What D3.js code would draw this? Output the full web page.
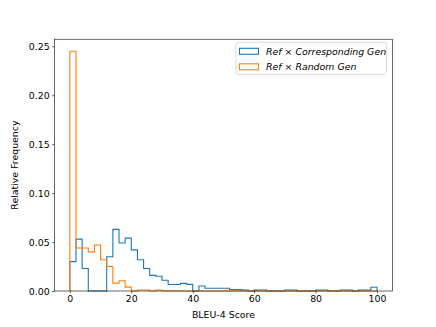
<!DOCTYPE html>
<html><head><meta charset="utf-8">
<script src="https://cdn.jsdelivr.net/npm/d3@7"></script>
<style>body{margin:0;background:#fff}svg{display:block}text{font-family:"DejaVu Sans",sans-serif}</style>
</head><body>
<script>
const binEdges = d3.range(0, 102, 2);
const seriesNames = ["Ref \u00d7 Corresponding Gen", "Ref \u00d7 Random Gen"];
const correspondingValues = [0.030,0.053,0.023,0,0,0,0.035,0.063,0.049,0.054,0.042,0.032,0.023,0.016,0.015,0.011,0.0067,0.0067,0.0078,0.0068,0,0.0051,0.0028,0.0028,0.0028,0.0028,0.0015,0.0015,0.001,0,0.001,0.001,0,0,0,0.001,0.001,0,0,0,0.001,0.001,0,0,0.001,0.001,0,0.001,0.001,0.0038];
const randomValues = [0.245,0.044,0.044,0.040,0.047,0.032,0.025,0.008,0.0105,0.004,0,0.001,0.001,0,0.001,0,0,0,0,0,0,0,0,0,0,0,0,0,0,0,0,0,0,0,0,0,0,0,0,0,0,0,0,0,0,0,0,0,0,0];
const xTicks = [0,20,40,60,80,100];
const yTicks = [0,0.05,0.10,0.15,0.20,0.25];
const colors = ["#1f77b4","#ff7f0e"];

const W=436,H=327, L=54.5, R=392.4, T=39.2, B=291;
const svg=d3.select("body").append("svg").attr("width",W).attr("height",H);
const ymax = d3.max(randomValues.concat(correspondingValues))*1.05;
const x=d3.scaleLinear().domain([-5,105]).range([L,R]);
const y=d3.scaleLinear().domain([0,ymax]).range([B,T]);

function stepPts(vals){
  const pts=[[binEdges[0],0]];
  vals.forEach((v,i)=>{pts.push([binEdges[i],v]);pts.push([binEdges[i+1],v]);});
  pts.push([binEdges[binEdges.length-1],0]);
  return pts;
}
const line=d3.line().x(d=>x(d[0])).y(d=>y(d[1]));
[correspondingValues,randomValues].forEach((vals,i)=>{
  svg.append("path").attr("d",line(stepPts(vals))).attr("fill","none")
    .attr("stroke",colors[i]).attr("stroke-width",1.1).attr("stroke-linejoin","miter");
});

const xAxis=d3.axisBottom(x).tickValues(xTicks).tickFormat(d3.format("d")).tickSizeOuter(0).tickSize(2.4).tickPadding(2.4);
const gx=svg.append("g").attr("transform",`translate(0,${B})`).call(xAxis);
const yAxis=d3.axisLeft(y).tickValues(yTicks).tickFormat(d3.format(".2f")).tickSizeOuter(0).tickSize(2.4).tickPadding(2.4);
const gy=svg.append("g").attr("transform",`translate(${L},0)`).call(yAxis);
[gx,gy].forEach(g=>{g.select(".domain").remove();g.selectAll("line").attr("stroke","#000").attr("stroke-width",0.6);
  g.selectAll("text").attr("font-size",9.4).attr("fill","#000").attr("font-family","DejaVu Sans");});
// spines
svg.append("rect").attr("x",L).attr("y",T).attr("width",R-L).attr("height",B-T)
  .attr("fill","none").attr("stroke","#000").attr("stroke-width",0.6);

svg.append("text").attr("x",(L+R)/2).attr("y",317.5).attr("text-anchor","middle").attr("font-size",9.4).text("BLEU-4 Score");
svg.append("text").attr("transform",`translate(18,${(T+B)/2}) rotate(-90)`).attr("text-anchor","middle").attr("font-size",9.4).text("Relative Frequency");

// legend
const lg=svg.append("g");
lg.append("rect").attr("x",236).attr("y",42.3).attr("width",150.5).attr("height",32).attr("rx",2)
  .attr("fill","#fff").attr("fill-opacity",0.8).attr("stroke","#ccc").attr("stroke-width",0.7);
seriesNames.forEach((name,i)=>{
  const yy=51.3+i*15.5;
  lg.append("rect").attr("x",239.5).attr("y",yy-3).attr("width",19).attr("height",6)
    .attr("fill","none").attr("stroke",colors[i]).attr("stroke-width",1.1);
  const parts=name.split(" \u00d7 ");
  const t=lg.append("text").attr("x",266).attr("y",yy+3.3).attr("font-size",9.4);
  t.append("tspan").attr("font-style","italic").text(parts[0]);
  t.append("tspan").text(" \u00d7 ");
  t.append("tspan").attr("font-style","italic").text(parts[1]);
});
</script>
</body></html>
